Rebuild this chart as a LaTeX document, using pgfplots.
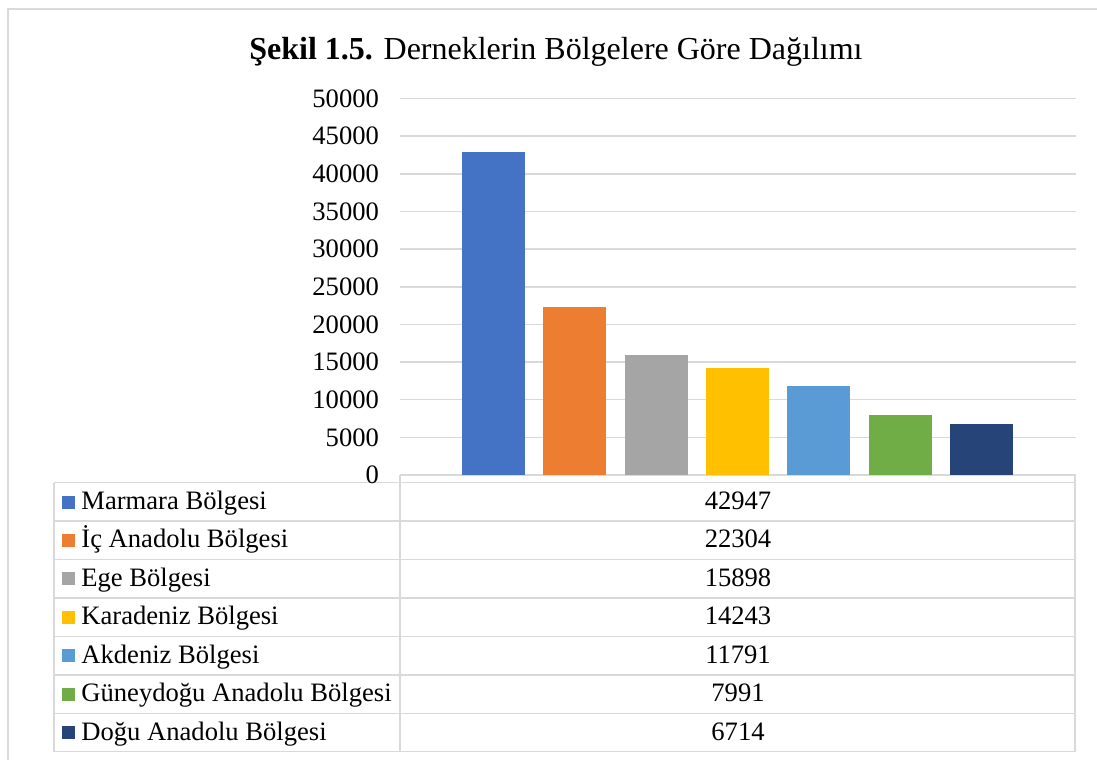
\documentclass[border=0pt]{standalone}
\usepackage{fontspec}
\setmainfont{Liberation Serif}
\usepackage{pgfplots}
\pgfplotsset{compat=1.18}
\definecolor{gridgray}{HTML}{D9D9D9}
\definecolor{cMarmara}{HTML}{4472C4}
\definecolor{cIc}{HTML}{ED7D31}
\definecolor{cEge}{HTML}{A5A5A5}
\definecolor{cKara}{HTML}{FFC000}
\definecolor{cAkd}{HTML}{5B9BD5}
\definecolor{cGuney}{HTML}{70AD47}
\definecolor{cDogu}{HTML}{264478}
\newcommand{\tfont}{\fontsize{13.3}{16}\selectfont}

\begin{document}
\begin{tikzpicture}
% frame, title and data table in pixel units (y downwards)
\begin{scope}[x=0.5pt,y=-0.5pt]
\useasboundingbox (0,0) rectangle (1097,760);
\draw[gridgray, line width=0.75pt] (8,760) -- (8,9) -- (1097,9);
\node[font=\fontsize{16}{19}\selectfont, anchor=base, inner sep=0pt] at (556,59)
  {\textbf{Şekil 1.5.} Derneklerin Bölgelere Göre Dağılımı};
\begin{scope}[gridgray, line width=0.75pt]
  \foreach \k in {0,...,7}
    \draw (54,{482.7+38.43*\k}) -- (1075,{482.7+38.43*\k});
  \draw (400,475) -- (1075,475);
  \draw (54,482.7) -- (54,751.7);
  \draw (400,475) -- (400,751.7);
  \draw (1075,475) -- (1075,751.7);
\end{scope}
\foreach \name/\col/\val [count=\i from 0] in {
    Marmara Bölgesi/cMarmara/42947,
    İç Anadolu Bölgesi/cIc/22304,
    Ege Bölgesi/cEge/15898,
    Karadeniz Bölgesi/cKara/14243,
    Akdeniz Bölgesi/cAkd/11791,
    Güneydoğu Anadolu Bölgesi/cGuney/7991,
    Doğu Anadolu Bölgesi/cDogu/6714} {
  \fill[\col] (62,{495.5+38.43*\i}) rectangle ++(13,13);
  \node[font=\tfont, anchor=base west, inner sep=0pt] at (81,{509.5+38.43*\i}) {\name};
  \node[font=\tfont, anchor=base, inner sep=0pt] at (738,{509.5+38.43*\i}) {\val};
}
\end{scope}

\begin{axis}[
    at={(200pt,-237.5pt)}, anchor=south west,
    scale only axis,
    width=338pt, height=188.25pt,
    xmin=-1.15, xmax=7.16,
    ymin=0, ymax=50000,
    ytick={0,5000,...,50000},
    scaled y ticks=false,
    xtick=\empty,
    axis line style={draw=none},
    ymajorgrids,
    grid style={gridgray, line width=0.75pt},
    major tick length=0pt,
    yticklabel style={font=\tfont, xshift=-7pt},
    /pgf/number format/1000 sep={},
    /pgf/number format/assume math mode=true,
    ybar, bar width=0.775, bar shift=0pt,
    clip=false
]
\addplot[fill=cMarmara, draw=none] coordinates {(0,42947)};
\addplot[fill=cIc, draw=none] coordinates {(1,22304)};
\addplot[fill=cEge, draw=none] coordinates {(2,15898)};
\addplot[fill=cKara, draw=none] coordinates {(3,14243)};
\addplot[fill=cAkd, draw=none] coordinates {(4,11791)};
\addplot[fill=cGuney, draw=none] coordinates {(5,7991)};
\addplot[fill=cDogu, draw=none] coordinates {(6,6714)};
\end{axis}
\end{tikzpicture}
\end{document}
